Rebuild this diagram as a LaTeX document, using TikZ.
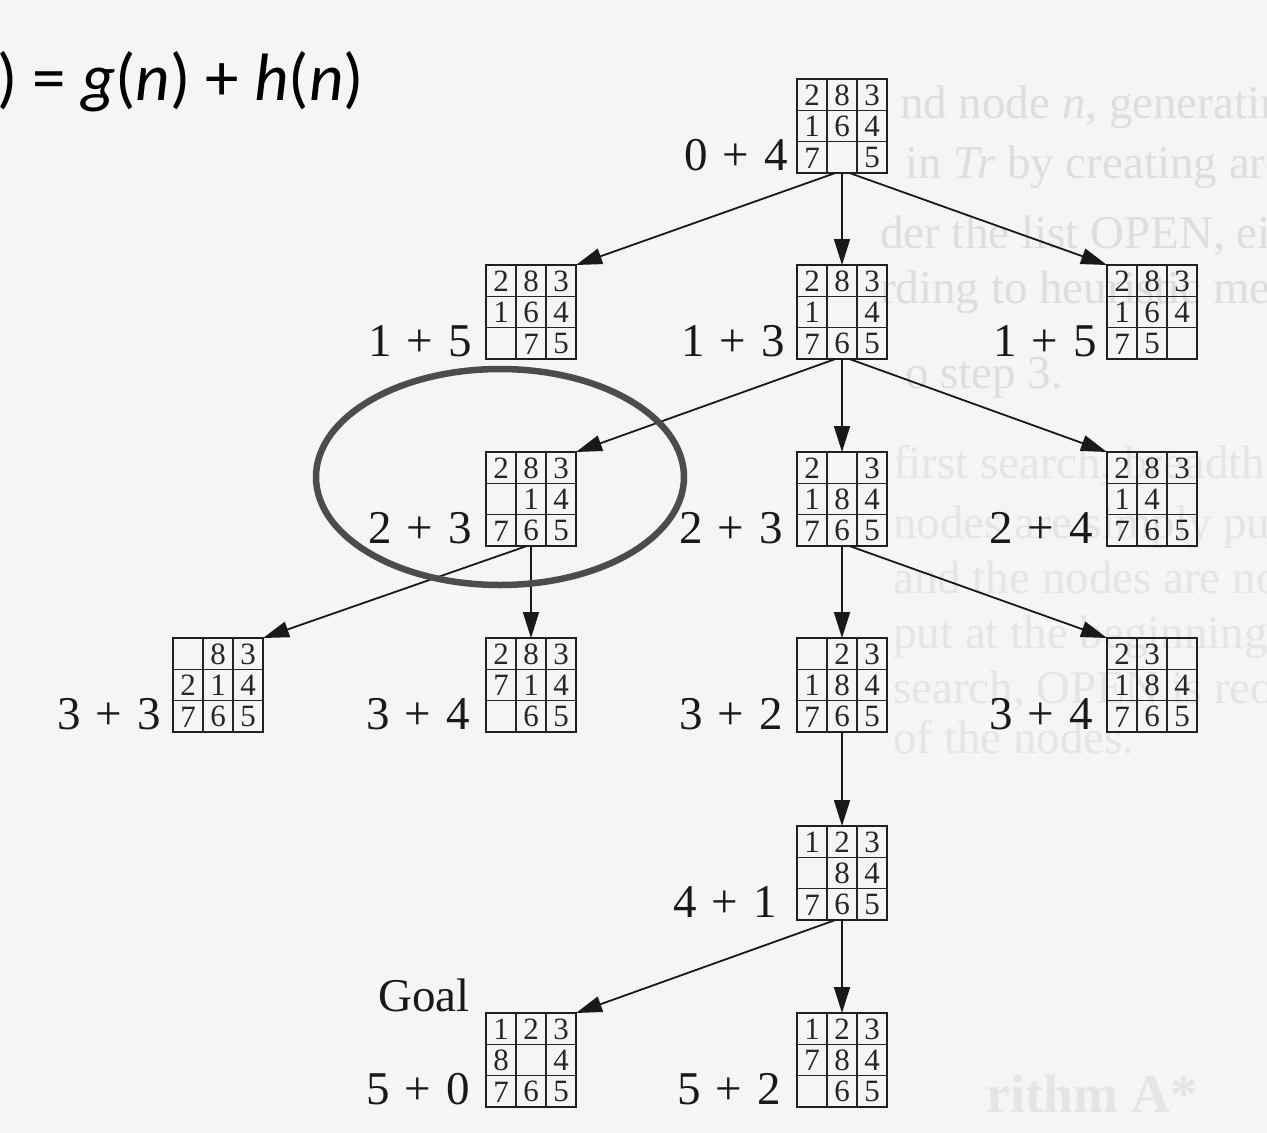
\documentclass[tikz,border=0pt]{standalone}
\usepackage{fontspec}
\setmainfont{Liberation Serif}
\newfontfamily\formulafont{Carlito}
\usetikzlibrary{arrows.meta,calc}

% "g + h" value printed beside a board
\newcommand\fplus[2]{#1\hspace{.32em}+\hspace{.32em}#2}

% 8-puzzle board: name, centre, nine entries row by row ({} = blank)
\newcommand\puzzle[3]{%
  \node[board] (#1) at (#2) {};
  \foreach \t in {1,2}{
    \draw[cellline] ($(#1.north west)!\t/3!(#1.north east)$) -- ($(#1.south west)!\t/3!(#1.south east)$);
    \draw[cellline] ($(#1.north west)!\t/3!(#1.south west)$) -- ($(#1.north east)!\t/3!(#1.south east)$);
  }
  \foreach \v [count=\k from 0] in {#3}{
    \pgfmathtruncatemacro\pzcol{mod(\k,3)}
    \pgfmathtruncatemacro\pzrow{\k/3}
    \node[tile] at ($(#1.north west)+(15+30*\pzcol,16.2+31.33*\pzrow)$) {\v};
  }
}

\begin{document}
\begin{tikzpicture}[x=1pt,y=-1pt,
  board/.style={draw=black!88, line width=2.3pt, minimum width=90pt, minimum height=94pt, inner sep=0pt, outer sep=0pt},
  cellline/.style={draw=black!85, line width=1.6pt},
  tile/.style={font=\fontsize{31}{31}\selectfont, text=black!85, inner sep=0pt},
  fval/.style={font=\fontsize{47}{47}\selectfont, text=black!90, anchor=base east, inner sep=0pt},
  edge/.style={draw=black!90, line width=1.8pt, -{Triangle[length=26pt,width=16pt]}},
  ring/.style={draw=black!70, line width=6.5pt},
  formula/.style={font=\formulafont\fontsize{67}{67}\selectfont, anchor=base east, inner sep=0pt},
  pagetext/.style={font=\fontsize{47}{47}\selectfont, text=black!13, inner sep=0pt, anchor=base west},
  fainttext/.style={pagetext, text=black!10},
]
\fill[black!4] (0,0) rectangle (1267,1133);
\useasboundingbox (0,0) rectangle (1267,1133);
\clip (0,0) rectangle (1267,1133);

% faded page text showing through on the right
\node[pagetext] (p1) at (900,118) {nd node \textit{n}, generating};
\node[pagetext] (p2) at (905,178) {in \textit{Tr} by creating arcs};
\node[pagetext] (p3) at (880,248) {der the list OPEN, either};
\node[pagetext] (p4) at (880,303) {rding to heuristic merit.};
\node[pagetext] (p5) at (905,388) {o step 3.};
\node[fainttext] (p6) at (893,478) {first search, breadth};
\node[fainttext] (p7) at (893,538) {nodes are simply put};
\node[fainttext] (p8) at (893,593) {and the nodes are not};
\node[fainttext] (p9) at (893,648) {put at the beginning};
\node[fainttext] (p10) at (893,703) {search, OPEN is reordered};
\node[fainttext] (p11) at (893,753) {of the nodes.};
\node[fainttext, anchor=base east, font=\fontsize{54}{54}\selectfont\bfseries] (p12) at (1198,1112) {rithm A*};

% heading
\node[formula] (fdef) at (364,100) {\textit{f}(\textit{n}) = \textit{g}(\textit{n}) + \textit{h}(\textit{n})};

% search tree boards
\puzzle{n0}{842,126}{2,8,3,1,6,4,7,{},5}
\puzzle{n1a}{531,312}{2,8,3,1,6,4,{},7,5}
\puzzle{n1b}{842,312}{2,8,3,1,{},4,7,6,5}
\puzzle{n1c}{1152,312}{2,8,3,1,6,4,7,5,{}}
\puzzle{n2a}{531,499}{2,8,3,{},1,4,7,6,5}
\puzzle{n2b}{842,499}{2,{},3,1,8,4,7,6,5}
\puzzle{n2c}{1152,499}{2,8,3,1,4,{},7,6,5}
\puzzle{n3a}{218,685}{{},8,3,2,1,4,7,6,5}
\puzzle{n3b}{531,685}{2,8,3,7,1,4,{},6,5}
\puzzle{n3c}{842,685}{{},2,3,1,8,4,7,6,5}
\puzzle{n3d}{1152,685}{2,3,{},1,8,4,7,6,5}
\puzzle{n4}{842,873}{1,2,3,{},8,4,7,6,5}
\puzzle{n5a}{531,1060}{1,2,3,8,{},4,7,6,5}
\puzzle{n5b}{842,1060}{1,2,3,7,8,4,{},6,5}

% f = g + h values
\node[fval] (v0)  at ($(n0.south west)+(-9,-3)$)  {\fplus04};
\node[fval] (v1a) at ($(n1a.south west)+(-14,-3)$) {\fplus15};
\node[fval] (v1b) at ($(n1b.south west)+(-12,-3)$) {\fplus13};
\node[fval] (v1c) at ($(n1c.south west)+(-10,-3)$) {\fplus15};
\node[fval] (v2a) at ($(n2a.south west)+(-14,-3)$) {\fplus23};
\node[fval] (v2b) at ($(n2b.south west)+(-14,-3)$) {\fplus23};
\node[fval] (v2c) at ($(n2c.south west)+(-14,-3)$) {\fplus24};
\node[fval] (v3a) at ($(n3a.south west)+(-12,-3)$) {\fplus33};
\node[fval] (v3b) at ($(n3b.south west)+(-16,-3)$) {\fplus34};
\node[fval] (v3c) at ($(n3c.south west)+(-14,-3)$) {\fplus32};
\node[fval] (v3d) at ($(n3d.south west)+(-14,-3)$) {\fplus34};
\node[fval] (v4)  at ($(n4.south west)+(-20,-3)$)  {\fplus41};
\node[fval] (v5a) at ($(n5a.south west)+(-16,-3)$) {\fplus50};
\node[fval] (v5b) at ($(n5b.south west)+(-16,-3)$) {\fplus52};
\node[fval] (goal) at ($(n5a.north west)+(-16,-2)$) {Goal};

% expansions
\draw[edge] (n0.262) -- (n1a.north east);
\draw[edge] (n0.south) -- (n1b.north);
\draw[edge] (n0.279) -- (n1c.north west);
\draw[edge] (n1b.262) -- (n2a.north east);
\draw[edge] (n1b.south) -- (n2b.north);
\draw[edge] (n1b.279) -- (n2c.north west);
\draw[edge] (n2a.265) -- (n3a.north east);
\draw[edge] (n2a.south) -- (n3b.north);
\draw[edge] (n2b.south) -- (n3c.north);
\draw[edge] (n2b.279) -- (n3d.north west);
\draw[edge] (n3c.south) -- (n4.north);
\draw[edge] (n4.262) -- (n5a.north east);
\draw[edge] (n4.south) -- (n5b.north);

% hand-drawn ring around the first 2+3 node
\draw[ring] (500,477) ellipse [x radius=184, y radius=108];
\end{tikzpicture}
\end{document}
